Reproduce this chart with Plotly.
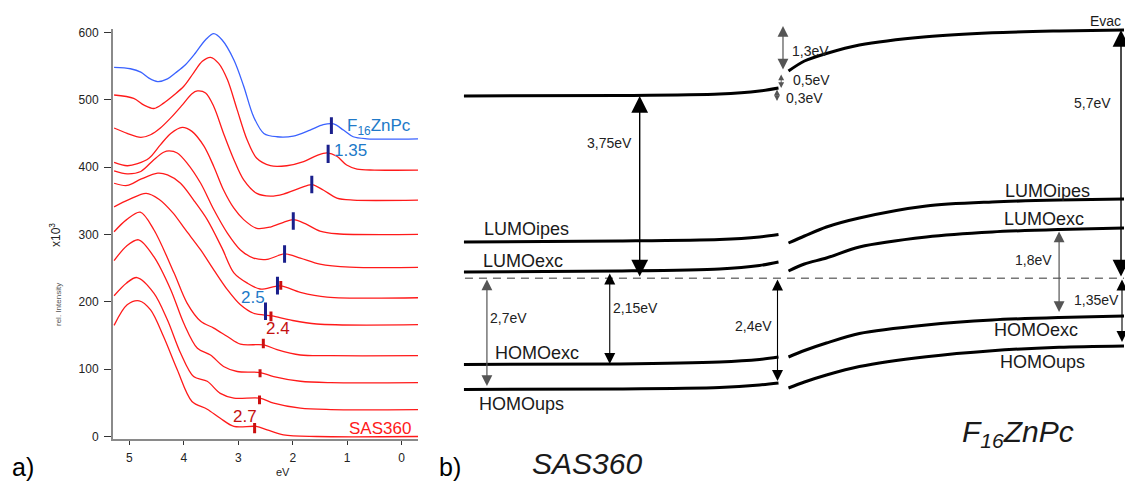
import plotly.graph_objects as go

FONT = "Liberation Sans, Arial, sans-serif"

# ---------------- panel a) : spectra, energy (eV) vs rel. intensity (x10^3) ----------------
f16_ev = [5.28, 4.98, 4.79, 4.64, 4.48, 4.30, 4.15, 3.97, 3.79, 3.60, 3.45, 3.30, 3.08, 2.90,
          2.72, 2.53, 2.29, 1.99, 1.68, 1.44, 1.25, 1.07, 0.89, 0.64, -0.30]
f16_int = [548, 546, 541, 532, 527, 531, 540, 552, 569, 589, 598, 589, 559, 520,
           475, 450, 445, 446, 455, 463, 464, 455, 445, 442, 442]

sas1_ev = [5.28, 4.92, 4.73, 4.55, 4.37, 4.18, 4.00, 3.82, 3.66, 3.51, 3.36, 3.20, 3.02, 2.84,
           2.66, 2.41, 2.11, 1.80, 1.56, 1.37, 1.19, 1.01, 0.82, 0.50, -0.30]
sas1_int = [507, 502, 492, 487, 495, 507, 520, 540, 557, 563, 554, 530, 485, 441,
            413, 402, 402, 408, 417, 421, 416, 403, 397, 395.5, 395.5]

sas2_ev = [5.28, 5.04, 4.79, 4.61, 4.43, 4.24, 4.03, 3.85, 3.75, 3.60, 3.45, 3.27, 3.08, 2.90,
           2.66, 2.41, 2.17, 1.86, 1.65, 1.44, 1.19, 0.89, -0.30]
sas2_int = [458, 450, 444, 448, 458, 473, 492, 509, 513, 510, 490, 450, 411, 381,
            361, 357, 360, 369, 374, 366, 354, 351, 351]

sas3_ev = [5.28, 5.04, 4.85, 4.64, 4.43, 4.24, 4.03, 3.85, 3.63, 3.45, 3.27, 3.08, 2.90, 2.66,
           2.41, 2.17, 1.99, 1.77, 1.50, 1.19, -0.30]
sas3_int = [407, 402, 405, 413, 433, 450, 459, 453, 431, 401, 366, 339, 322, 309,
            311, 318, 322, 316, 305, 301, 300]

sas4_ev = [5.28, 5.04, 4.79, 4.55, 4.37, 4.27, 4.12, 3.94, 3.69, 3.45, 3.20, 2.96, 2.72, 2.47,
           2.15, 1.86, 1.50, 0.95, -0.30]
sas4_int = [394.5, 390, 393.5, 411, 422, 424, 421, 406, 376, 337, 302, 277, 265, 263,
            271, 265, 256, 251.5, 251]

sas5_ev = [5.28, 5.04, 4.79, 4.48, 4.30, 4.06, 3.82, 3.57, 3.30, 3.08, 2.84, 2.60, 2.23, 1.86,
           1.37, -0.30]
sas5_int = [376, 372.7, 382, 391, 388.5, 376, 351, 322, 280, 243, 228, 219, 223.6, 214,
            207, 206]

sas6_ev = [5.28, 5.00, 4.69, 4.45, 4.20, 3.97, 3.69, 3.45, 3.20, 2.96, 2.72, 2.38, 2.05, 1.56, -0.30]
sas6_int = [341, 352, 361, 352, 332, 307, 277, 247.5, 218, 195.5, 183, 179, 173, 167, 166]

sas7_ev = [5.28, 5.05, 4.80, 4.55, 4.18, 3.94, 3.69, 3.45, 3.20, 2.96, 2.53, 2.29, 1.86, 1.30, -0.30]
sas7_int = [304, 322, 333, 307, 243, 198, 171, 161, 148.5, 137, 136, 129, 121, 120, 120]

sas8_ev = [5.28, 5.05, 4.83, 4.55, 4.24, 4.00, 3.75, 3.51, 3.27, 3.02, 2.60, 2.35, 1.86, 1.30, -0.30]
sas8_int = [261, 283, 292, 267, 218, 168, 131, 121, 104, 96.5, 95, 89, 82, 80, 80]

sas9_ev = [5.28, 5.05, 4.86, 4.55, 4.30, 4.06, 3.82, 3.57, 3.33, 3.08, 2.60, 2.35, 1.86, 1.30, -0.30]
sas9_int = [209, 228, 236, 213, 173, 124, 89, 82, 64, 57, 57, 49.5, 42, 40, 40]

sas10_ev = [5.28, 5.04, 4.82, 4.61, 4.37, 4.12, 3.85, 3.57, 3.33, 3.08, 2.67, 2.47, 2.17, 1.56, -0.30]
sas10_int = [165, 195.5, 201.5, 188, 148, 99, 52, 40.5, 27, 15, 15, 10, 2.5, 0, 0]

# onset markers: energy, lower and upper end of each short bar
onset_blue_ev = [1.29, 1.35, 1.65, 1.99, 2.15, 2.28, 2.5]
onset_blue_lo = [449, 406, 361, 307, 258, 211, 173]
onset_blue_hi = [474, 433, 387, 333, 284, 237, 199]
onset_red_ev = [2.22, 2.4, 2.54, 2.60, 2.61, 2.7]
onset_red_lo = [218, 171, 131, 88, 48, 5]
onset_red_hi = [231, 185.5, 145, 100, 61, 20]

y_ticks = [0, 100, 200, 300, 400, 500, 600]
x_ticks = [0, 1, 2, 3, 4, 5]

# ---------------- panel b) : energy level scheme (diagram units) ----------------
sas_x = [464, 620, 720, 760, 779]
sas_evac = [96, 95.5, 94, 91, 88]
sas_lumo_ipes = [242, 241, 239.5, 237, 234.5]
sas_lumo_exc = [272, 271, 269, 265.5, 262]
sas_homo_exc = [364.5, 364, 362, 359.5, 357]
sas_homo_ups = [389.5, 389, 387.5, 385, 383]

f16_x = [789, 805, 827, 860, 927, 993, 1060, 1125]
f16_evac = [71, 61, 53.5, 45, 36.7, 32.7, 31, 30]
f16_lumo_ipes = [243, 236, 227, 218, 206, 202, 200, 199]
f16_lumo_exc = [271, 264, 258, 247, 237, 232, 229.5, 228]
f16_homo_exc = [357, 350.5, 343, 333.5, 325, 320, 317.5, 316]
f16_homo_ups = [388, 382, 375, 366.5, 356.7, 350.7, 347.3, 346]

fermi_x = [465, 1125]
fermi_y = [278.3, 278.3]

# energy-gap arrows: x, start, end, label, label position
gap_x = [640, 1122, 487, 610, 778, 1060, 1123, 783.5, 781.7, 777.5]
gap_from = [278, 278, 278, 272, 278, 230, 278, 71, 73, 88]
gap_to = [96, 30, 386, 364, 381, 312, 342, 26, 88, 101]
gap_style = ["bold", "bold", "grey", "thin", "thin", "grey", "thin", "grey", "tiny", "tiny"]
gap_text = ["3,75eV", "5,7eV", "2,7eV", "2,15eV", "2,4eV", "1,8eV", "1,35eV", "1,3eV", "0,5eV", "0,3eV"]
gap_text_x = [610, 1093, 509, 636, 754, 1034, 1097, 811, 812, 805]
gap_text_y = [143, 103, 318, 308, 326, 260, 300, 51, 80, 98]

level_text = ["LUMOipes", "LUMOexc", "HOMOexc", "HOMOups",
              "LUMOipes", "LUMOexc", "HOMOexc", "HOMOups", "Evac"]
level_text_x = [527, 523, 537, 522, 1048, 1045, 1037, 1043, 1106]
level_text_y = [229, 261, 353, 404, 191, 219, 330, 362, 21]
level_text_size = [18, 18, 18, 18, 18, 18, 18, 18, 14]

RED = "#ff1a1a"
BLUE = "#3a62ff"
NAVY = "#1a1f8c"
DARKRED = "#c41010"
LABEL_BLUE = "#2079c8"

fig = go.Figure()

spectra = [(f16_ev, f16_int, BLUE),
           (sas1_ev, sas1_int, RED), (sas2_ev, sas2_int, RED), (sas3_ev, sas3_int, RED),
           (sas4_ev, sas4_int, RED), (sas5_ev, sas5_int, RED), (sas6_ev, sas6_int, RED),
           (sas7_ev, sas7_int, RED), (sas8_ev, sas8_int, RED), (sas9_ev, sas9_int, RED),
           (sas10_ev, sas10_int, RED)]
for ev, inten, col in spectra:
    fig.add_trace(go.Scatter(x=ev, y=inten, mode="lines", xaxis="x", yaxis="y",
                             line=dict(color=col, width=1.3, shape="spline", smoothing=0.9),
                             hoverinfo="skip", showlegend=False))


def bars(ev, lo, hi):
    xs, ys = [], []
    for e, a, b in zip(ev, lo, hi):
        xs += [e, e, None]
        ys += [a, b, None]
    return xs, ys


bx, by = bars(onset_red_ev, onset_red_lo, onset_red_hi)
fig.add_trace(go.Scatter(x=bx, y=by, mode="lines", xaxis="x", yaxis="y",
                         line=dict(color="#cc1010", width=3), hoverinfo="skip", showlegend=False))
bx, by = bars(onset_blue_ev, onset_blue_lo, onset_blue_hi)
fig.add_trace(go.Scatter(x=bx, y=by, mode="lines", xaxis="x", yaxis="y",
                         line=dict(color=NAVY, width=3), hoverinfo="skip", showlegend=False))

# energy levels
for xs, ys in [(sas_x, sas_evac), (sas_x, sas_lumo_ipes), (sas_x, sas_lumo_exc),
               (sas_x, sas_homo_exc), (sas_x, sas_homo_ups),
               (f16_x, f16_evac), (f16_x, f16_lumo_ipes), (f16_x, f16_lumo_exc),
               (f16_x, f16_homo_exc), (f16_x, f16_homo_ups)]:
    fig.add_trace(go.Scatter(x=xs, y=ys, mode="lines", xaxis="x2", yaxis="y2",
                             line=dict(color="black", width=3, shape="spline", smoothing=0.8),
                             hoverinfo="skip", showlegend=False))

fig.add_trace(go.Scatter(x=fermi_x, y=fermi_y, mode="lines", xaxis="x2", yaxis="y2",
                         line=dict(color="#777777", width=1.6, dash="8px,6px"),
                         hoverinfo="skip", showlegend=False))

annotations = []

arrow_styles = {
    "bold": dict(arrowcolor="black", arrowwidth=1.4, arrowsize=2.4, arrowhead=2),
    "thin": dict(arrowcolor="black", arrowwidth=1.1, arrowsize=2.0, arrowhead=2),
    "grey": dict(arrowcolor="#555555", arrowwidth=1.2, arrowsize=1.8, arrowhead=2),
    "tiny": dict(arrowcolor="#555555", arrowwidth=0.9, arrowsize=1.3, arrowhead=2),
}
for gx, g0, g1, st in zip(gap_x, gap_from, gap_to, gap_style):
    s = arrow_styles[st]
    annotations.append(dict(x=gx, y=g1, ax=gx, ay=g0, xref="x2", yref="y2", axref="x2", ayref="y2",
                            text="", showarrow=True, arrowside="end+start",
                            arrowhead=s["arrowhead"], startarrowhead=s["arrowhead"],
                            arrowsize=s["arrowsize"], startarrowsize=s["arrowsize"],
                            arrowwidth=s["arrowwidth"], arrowcolor=s["arrowcolor"],
                            standoff=0, startstandoff=0))

for t, tx, ty in zip(gap_text, gap_text_x, gap_text_y):
    annotations.append(dict(x=tx, y=ty, xref="x2", yref="y2", text=t, showarrow=False,
                            xanchor="center", yanchor="middle",
                            font=dict(family=FONT, size=14, color="#222222")))

for t, tx, ty, sz in zip(level_text, level_text_x, level_text_y, level_text_size):
    annotations.append(dict(x=tx, y=ty, xref="x2", yref="y2", text=t, showarrow=False,
                            xanchor="center", yanchor="middle",
                            font=dict(family=FONT, size=sz, color="#1a1a1a")))

annotations += [
    dict(x=587, y=463, xref="x2", yref="y2", text="<i>SAS360</i>", showarrow=False,
         xanchor="center", yanchor="middle",
         font=dict(family=FONT, size=30, color="#1a1a1a")),
    dict(x=1019, y=433, xref="x2", yref="y2", text="<i>F<sub>16</sub>ZnPc</i>", showarrow=False,
         xanchor="center", yanchor="middle",
         font=dict(family=FONT, size=30, color="#1a1a1a")),
    dict(x=450, y=467, xref="x2", yref="y2", text="b)", showarrow=False,
         xanchor="center", yanchor="middle",
         font=dict(family=FONT, size=25, color="black")),
    dict(x=23 / 1125, y=1 - 467 / 482, xref="paper", yref="paper", text="a)", showarrow=False,
         xanchor="center", yanchor="middle",
         font=dict(family=FONT, size=25, color="black")),
]

# panel a) labels
annotations += [
    dict(x=1.04, y=460, xref="x", yref="y", text="F<sub>16</sub>ZnPc", xanchor="left", yanchor="middle",
         showarrow=False, font=dict(family=FONT, size=17, color=LABEL_BLUE)),
    dict(x=1.28, y=424, xref="x", yref="y", text="1.35", xanchor="left", yanchor="middle",
         showarrow=False, font=dict(family=FONT, size=17, color=LABEL_BLUE)),
    dict(x=2.47, y=206, xref="x", yref="y", text="2.5", xanchor="right", yanchor="middle",
         showarrow=False, font=dict(family=FONT, size=17, color=LABEL_BLUE)),
    dict(x=2.53, y=161, xref="x", yref="y", text="2.4", xanchor="left", yanchor="middle",
         showarrow=False, font=dict(family=FONT, size=17, color=DARKRED)),
    dict(x=3.13, y=29.7, xref="x", yref="y", text="2.7", xanchor="left", yanchor="middle",
         showarrow=False, font=dict(family=FONT, size=17, color=DARKRED)),
    dict(x=-0.21, y=11.4, xref="x", yref="y", text="SAS360", xanchor="right", yanchor="middle",
         showarrow=False, font=dict(family=FONT, size=17, color=RED)),
    dict(x=283 / 1125, y=1 - 472 / 482, xref="paper", yref="paper", text="eV", showarrow=False,
         xanchor="center", yanchor="middle",
         font=dict(family=FONT, size=11, color="#222222")),
    dict(x=55 / 1125, y=1 - 235 / 482, xref="paper", yref="paper", text="x10<sup>3</sup>",
         xanchor="center", yanchor="middle",
         textangle=-90, showarrow=False, font=dict(family=FONT, size=12, color="#222222")),
    dict(x=58 / 1125, y=1 - 305 / 482, xref="paper", yref="paper", text="rel. Intensity",
         xanchor="center", yanchor="middle",
         textangle=-90, showarrow=False, font=dict(family=FONT, size=8, color="#555555")),
]

fig.update_layout(
    width=1125, height=482, autosize=False,
    margin=dict(l=0, r=0, t=0, b=0, autoexpand=False),
    paper_bgcolor="white", plot_bgcolor="rgba(0,0,0,0)",
    showlegend=False,
    xaxis=dict(domain=[113 / 1125, 418 / 1125], range=[5.3, -0.3], anchor="y",
               showline=True, linecolor="#8a8a8a", linewidth=2, mirror=False,
               ticks="outside", ticklen=4, tickwidth=1, tickcolor="#333333",
               tickvals=x_ticks, ticklabelstandoff=2, automargin=False,
               tickfont=dict(family=FONT, size=12, color="#222222"),
               showgrid=False, zeroline=False, fixedrange=True),
    yaxis=dict(domain=[1 - 439.2 / 482, 1 - 29 / 482], range=[-4, 605], anchor="x",
               showline=True, linecolor="#8a8a8a", linewidth=2,
               ticks="outside", ticklen=7, tickwidth=1, tickcolor="#333333",
               tickvals=y_ticks, ticklabelstandoff=3, automargin=False,
               tickfont=dict(family=FONT, size=12, color="#222222"),
               showgrid=False, zeroline=False, fixedrange=True),
    xaxis2=dict(domain=[430 / 1125, 1], range=[430, 1126], anchor="y2", visible=False,
                automargin=False, fixedrange=True),
    yaxis2=dict(domain=[0, 1], range=[482, 0], anchor="x2", visible=False,
                automargin=False, fixedrange=True),
    annotations=annotations,
)

fig.write_html("out.html")
